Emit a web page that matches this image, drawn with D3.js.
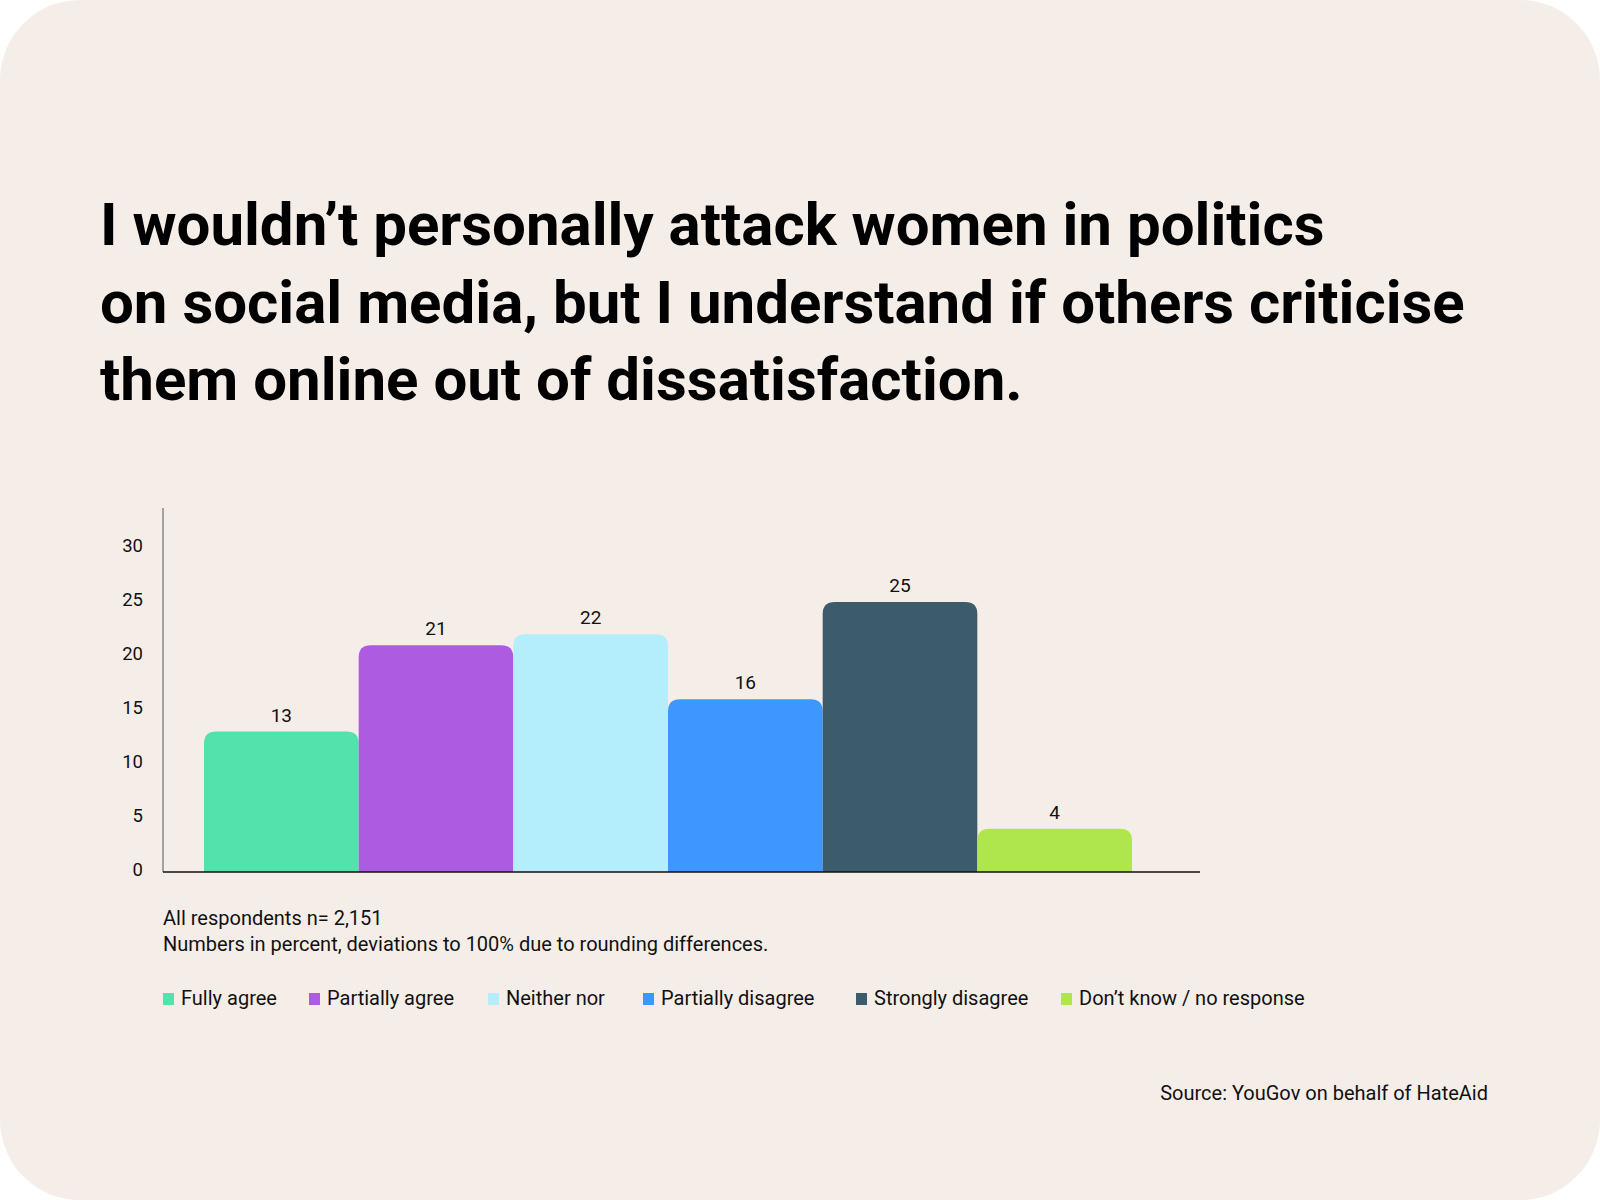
<!DOCTYPE html>
<html lang="en">
    <head>
        <meta charset="utf-8">
        <title>Women in politics survey</title>
        <script src="https://d3js.org/d3.v7.min.js"></script>
        <style>
            body { margin: 0; background: #ffffff; }
            text { font-family: Roboto, "Noto Sans", sans-serif; fill: #111; }
        </style>
    </head>
    <body>
        <div id="chart_area"></div>
        <script type="text/javascript">
            // data
            var categories = ["Fully agree", "Partially agree", "Neither nor", "Partially disagree", "Strongly disagree", "Don\u2019t know / no response"];
            var values = [13, 21, 22, 16, 25, 4];
            var colors = ["#51e3ab", "#ad5ce1", "#b4eefc", "#3d97ff", "#3c5c6c", "#aee64c"];
            var y_ticks = [0, 5, 10, 15, 20, 25, 30];
            var title_lines = [
                "I wouldn\u2019t personally attack women in politics",
                "on social media, but I understand if others criticise",
                "them online out of dissatisfaction."
            ];
            var note_lines = [
                "All respondents n= 2,151",
                "Numbers in percent, deviations to 100% due to rounding differences."
            ];
            var legend_x = [163, 309, 488, 643, 856, 1061];
            var source_text = "Source: YouGov on behalf of HateAid";

            var W = 1600, H = 1200;
            var svg = d3.select("#chart_area").append("svg").attr("width", W).attr("height", H);

            // card background
            svg.append("rect").attr("x", 0).attr("y", 0).attr("width", W).attr("height", H)
                .attr("rx", 80).attr("ry", 80).attr("fill", "#f5ede8");

            // title
            var title = svg.append("text").attr("x", 100).attr("y", 245)
                .attr("font-size", 60).attr("font-weight", 700).style("fill", "#000");
            title.selectAll("tspan").data(title_lines).enter().append("tspan")
                .attr("x", 100).attr("dy", (d, i) => i == 0 ? 0 : 77.5).text(d => d);

            // scales
            var x = d3.scaleBand().domain(categories).range([204, 1132]).padding(0);
            var y = d3.scaleLinear().domain([0, 33.7]).range([872, 508]);

            var main_g = svg.append("g").attr("id", "main_g");

            // y axis labels
            var y_axis = main_g.append("g").attr("transform", "translate(163,0)")
                .call(d3.axisLeft(y).tickValues(y_ticks).tickSize(0).tickPadding(20));
            y_axis.select(".domain").remove();
            y_axis.selectAll("text").attr("font-size", 18.5).attr("fill", "#111")
                .attr("font-family", "Roboto, sans-serif").attr("dy", "0.2em");

            // axis lines
            main_g.append("line").attr("x1", 163).attr("x2", 163).attr("y1", y(0)).attr("y2", 508)
                .attr("stroke", "#555").attr("stroke-width", 1);

            // bars with rounded top corners
            var r = 12;
            function barPath(d, i) {
                let x0 = x(categories[i]), x1 = x0 + x.bandwidth();
                let yt = y(d), yb = y(0);
                return "M" + x0 + "," + yb +
                    "V" + (yt + r) +
                    "Q" + x0 + "," + yt + " " + (x0 + r) + "," + yt +
                    "H" + (x1 - r) +
                    "Q" + x1 + "," + yt + " " + x1 + "," + (yt + r) +
                    "V" + yb + "Z";
            }
            main_g.selectAll(".bar").data(values).enter().append("path")
                .attr("class", "bar").attr("d", barPath).attr("fill", (d, i) => colors[i]);

            main_g.selectAll(".val").data(values).enter().append("text")
                .attr("class", "val")
                .attr("x", (d, i) => x(categories[i]) + x.bandwidth() / 2)
                .attr("y", d => y(d) - 10)
                .attr("text-anchor", "middle").attr("font-size", 19)
                .text(d => d);

            main_g.append("line").attr("x1", 163).attr("x2", 1200).attr("y1", y(0)).attr("y2", y(0))
                .attr("stroke", "#111").attr("stroke-width", 1.5);

            // notes
            svg.selectAll(".note").data(note_lines).enter().append("text")
                .attr("class", "note").attr("x", 163).attr("y", (d, i) => 925 + i * 26)
                .attr("font-size", 20).text(d => d);

            // legend
            var legend = svg.selectAll(".legend").data(categories).enter().append("g")
                .attr("class", "legend").attr("transform", (d, i) => "translate(" + legend_x[i] + ",1005)");
            legend.append("rect").attr("x", 0).attr("y", -12).attr("width", 11).attr("height", 12)
                .attr("fill", (d, i) => colors[i]);
            legend.append("text").attr("x", 18).attr("y", 0).attr("font-size", 20).text(d => d);

            // source
            svg.append("text").attr("x", 1488).attr("y", 1100).attr("text-anchor", "end")
                .attr("font-size", 20).text(source_text);
        </script>
    </body>
</html>
